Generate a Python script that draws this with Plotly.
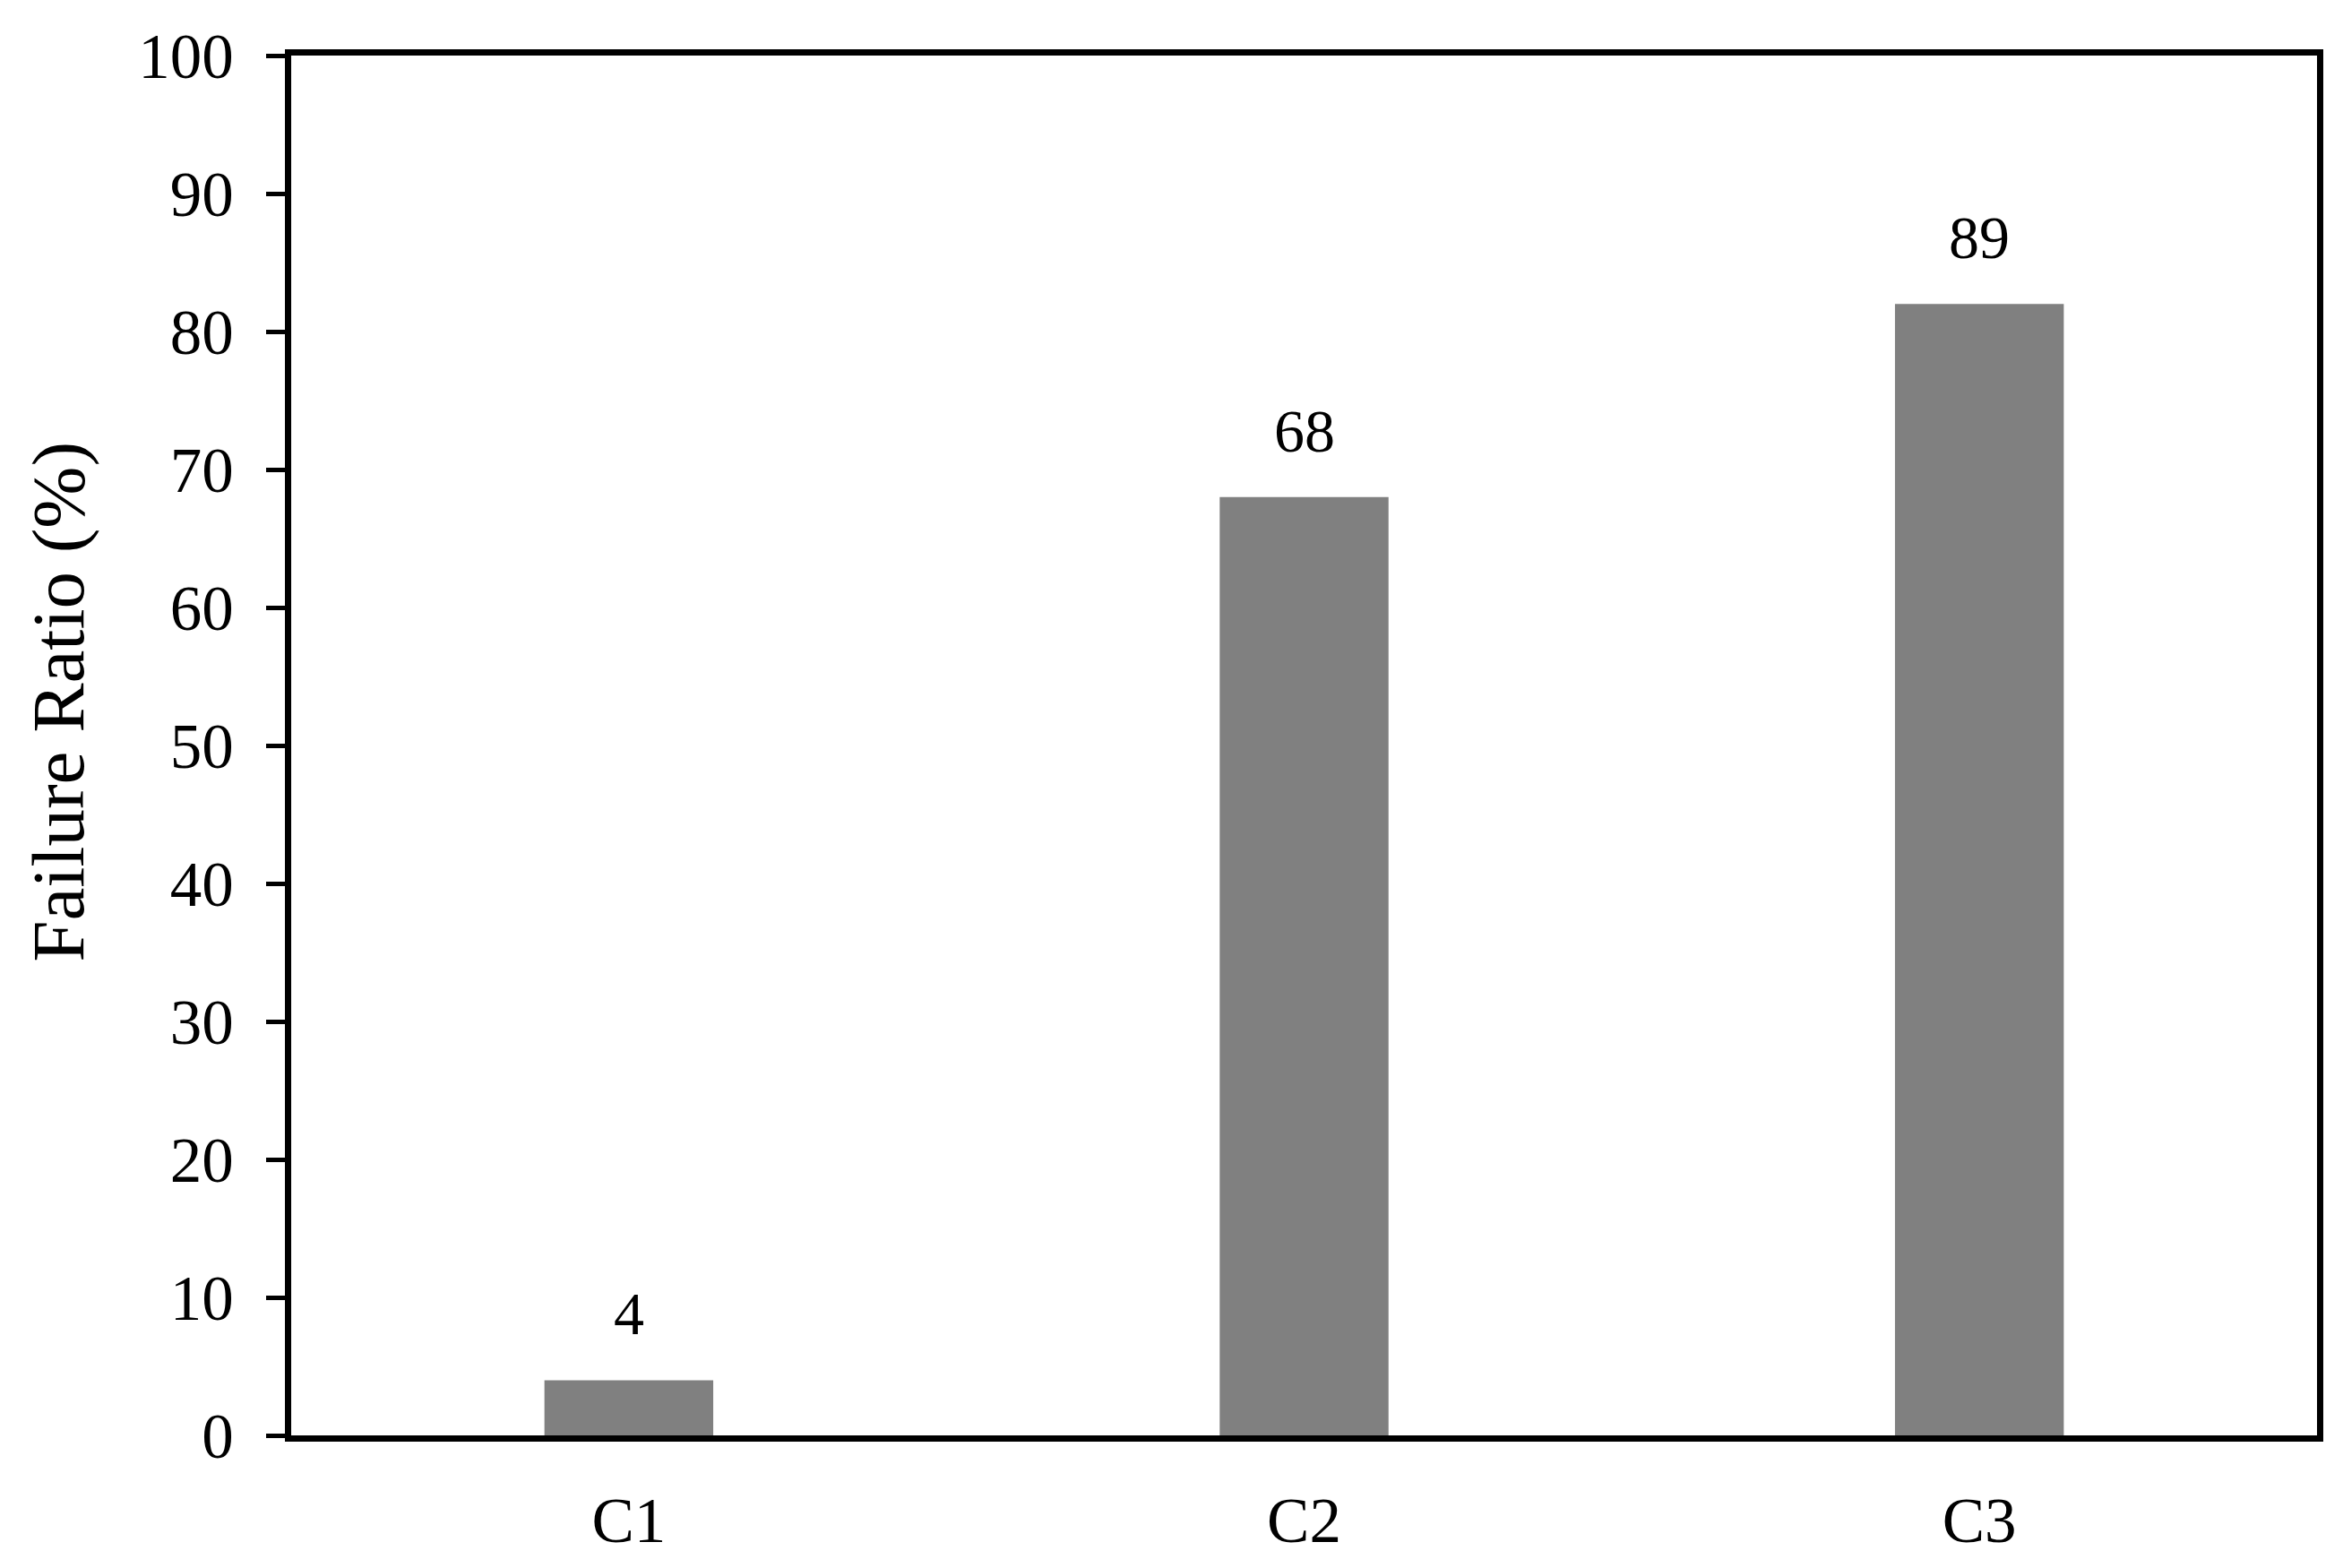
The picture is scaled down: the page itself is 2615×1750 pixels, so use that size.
import plotly.graph_objects as go

categories = ["C1", "C2", "C3"]
bar_values = [4, 68, 82]
bar_labels = ["4", "68", "89"]
y_ticks = [0, 10, 20, 30, 40, 50, 60, 70, 80, 90, 100]

FONT = "Liberation Serif, Times New Roman, serif"

fig = go.Figure()
fig.add_trace(go.Bar(
    x=categories, y=bar_values,
    marker=dict(color="#808080", line=dict(width=0)),
    width=0.25, hoverinfo="skip",
))

for c, v, t in zip(categories, bar_values, bar_labels):
    fig.add_annotation(x=c, y=v, text=t, showarrow=False, yanchor="middle",
                       yshift=74, font=dict(family=FONT, size=68, color="black"))

fig.add_annotation(xref="paper", yref="paper", x=-0.115, y=0.532,
                   text="Failure Ratio (%)", textangle=-90, showarrow=False,
                   xanchor="center", yanchor="middle",
                   font=dict(family=FONT, size=83, color="black"))

fig.update_layout(
    width=2615, height=1750,
    margin=dict(l=317, r=37, t=54, b=156),
    paper_bgcolor="white", plot_bgcolor="white",
    showlegend=False,
    font=dict(family=FONT, color="black"),
    bargap=0.75,
)
fig.update_xaxes(
    showline=True, linecolor="black", linewidth=7, mirror=True,
    ticks="", showgrid=False, zeroline=False,
    tickfont=dict(family=FONT, size=71, color="black"),
    ticklabelstandoff=27,
)
fig.update_yaxes(
    range=[0, 100], tickvals=y_ticks,
    showline=True, linecolor="black", linewidth=7, mirror=True,
    ticks="outside", ticklen=21, tickwidth=5, tickcolor="black",
    showgrid=False, zeroline=False,
    tickfont=dict(family=FONT, size=71, color="black"),
    ticklabelstandoff=22,
)

fig.write_html("out.html")
